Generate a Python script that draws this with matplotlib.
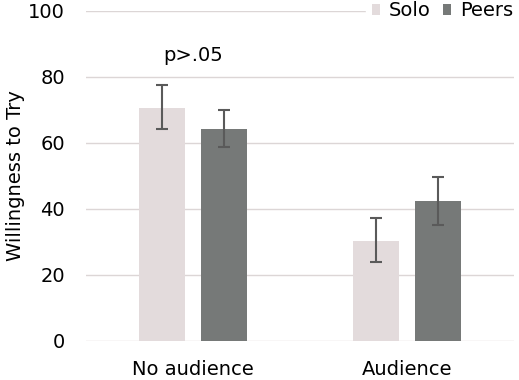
import matplotlib
matplotlib.use("Agg")
import matplotlib.pyplot as plt
import numpy as np

categories = ["No audience", "Audience"]
series_names = ["Solo", "Peers"]
solo = [70.5, 30.3]
peers = [64.3, 42.4]
solo_err_lo = [64.2, 24.0]
solo_err_hi = [77.6, 37.2]
peers_err_lo = [58.9, 35.2]
peers_err_hi = [70.0, 49.6]
yticks = [0, 20, 40, 60, 80, 100]
annotation = "p>.05"

plt.rcParams['font.family'] = ['DejaVu Sans']

fig = plt.figure(figsize=(5.19, 3.80), dpi=100)
ax = fig.add_axes([86/519, (380-341)/380, 428/519, 330/380])

x = np.arange(len(categories)) + 0.5
w = 0.215
off = 0.143
c_solo = "#E3DBDC"
c_peers = "#767978"
ecol = "#5A5A5A"

s = np.array(solo); p = np.array(peers)
ax.bar(x - off, s, w, color=c_solo, zorder=2, label=series_names[0])
ax.bar(x + off, p, w, color=c_peers, zorder=2, label=series_names[1])
ax.errorbar(x - off, s, yerr=[s - np.array(solo_err_lo), np.array(solo_err_hi) - s],
            fmt='none', ecolor=ecol, elinewidth=1.5, capsize=4.5, capthick=1.5, zorder=3)
ax.errorbar(x + off, p, yerr=[p - np.array(peers_err_lo), np.array(peers_err_hi) - p],
            fmt='none', ecolor=ecol, elinewidth=1.5, capsize=4.5, capthick=1.5, zorder=3)

ax.set_xlim(0, 2)
ax.set_ylim(0, 100)
ax.set_xticks(x)
ax.set_xticklabels(categories, fontsize=14)
ax.set_yticks(yticks)
ax.set_yticklabels([str(t) for t in yticks], fontsize=14)
ax.tick_params(length=0)
ax.tick_params(axis='x', pad=14)
ax.tick_params(axis='y', pad=15)
ax.yaxis.grid(True, color="#DCD6D6", linewidth=1.0, zorder=0)
ax.set_axisbelow(True)
for sp in ax.spines.values():
    sp.set_visible(False)
ax.set_ylabel("Willingness to Try", fontsize=14)
ax.yaxis.set_label_coords(-0.142, 0.5)

ax.text(x[0], 86.5, annotation, ha='center', va='center', fontsize=14)

leg = ax.legend(loc='center right', bbox_to_anchor=(1.012, 1.0), ncol=2, frameon=True,
                fontsize=14, handlelength=0.45, handleheight=0.45, handletextpad=0.45,
                columnspacing=0.6, borderpad=0.3, borderaxespad=0)
leg.get_frame().set_facecolor('white')
leg.get_frame().set_edgecolor('white')
leg.get_frame().set_alpha(1)

fig.savefig("out.png", dpi=100)
